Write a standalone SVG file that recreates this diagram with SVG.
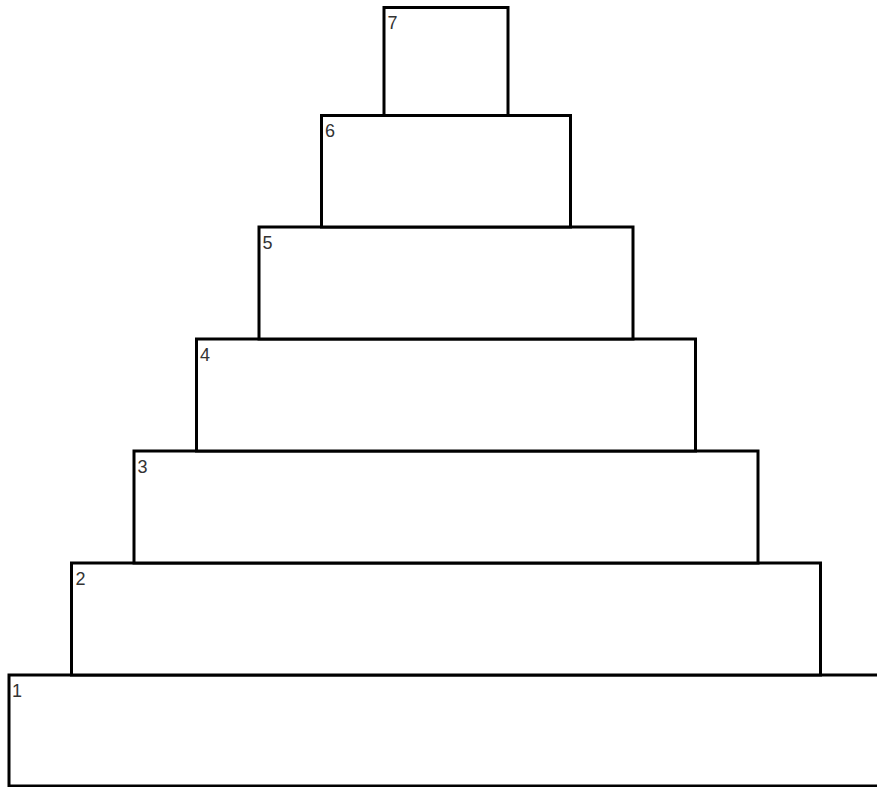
<svg xmlns="http://www.w3.org/2000/svg" width="877" height="787" viewBox="0 0 877 787">
<style>
rect.b{fill:#fff;stroke:#000;stroke-width:3}
text{font-family:"Liberation Sans","DejaVu Sans",sans-serif;font-size:18px;fill:#333}
</style>
<rect width="877" height="787" fill="#fff"/>
<g id="n1"><rect class="b" x="9" y="675" width="874" height="111"/><text x="12" y="697">1</text></g>
<g id="n2"><rect class="b" x="71.5" y="563" width="749" height="112"/><text x="75.5" y="585">2</text></g>
<g id="n3"><rect class="b" x="134" y="451" width="624" height="112"/><text x="137.5" y="473">3</text></g>
<g id="n4"><rect class="b" x="196.5" y="339" width="499" height="112"/><text x="200" y="361">4</text></g>
<g id="n5"><rect class="b" x="259" y="227" width="374" height="112"/><text x="262.5" y="249">5</text></g>
<g id="n6"><rect class="b" x="321.5" y="115.5" width="249" height="111.5"/><text x="325" y="137">6</text></g>
<g id="n7"><rect class="b" x="384" y="7.5" width="124" height="108"/><text x="387.5" y="29">7</text></g>
<g id="connectors"></g>
</svg>
